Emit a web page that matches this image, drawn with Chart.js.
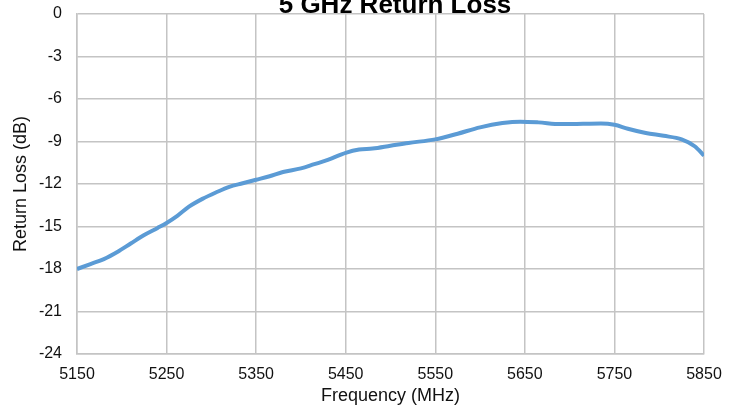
<!DOCTYPE html>
<html>
<head>
<meta charset="utf-8">
<title>5 GHz Return Loss</title>
<script src="https://cdn.jsdelivr.net/npm/chart.js@4"></script>
<style>
  html, body { margin: 0; padding: 0; background: #fff; }
  #wrap { width: 736px; height: 407px; overflow: hidden; }
</style>
</head>
<body>
<div id="wrap"><canvas id="rl-chart" width="736" height="407"></canvas></div>
<script>
// values
const frequencies = [
  5150, 5165, 5180, 5195, 5210, 5225, 5240, 5250, 5262, 5275,
  5290, 5305, 5320, 5335, 5350, 5365, 5380, 5400, 5415, 5430,
  5450, 5465, 5480, 5500, 5520, 5550, 5575, 5600, 5625, 5645,
  5665, 5690, 5715, 5735, 5750, 5765, 5785, 5805, 5825, 5840, 5850,
];
const returnLoss = [
  -18.0, -17.65, -17.3, -16.8, -16.2, -15.6, -15.1, -14.75, -14.25, -13.6,
  -13.05, -12.6, -12.2, -11.95, -11.7, -11.45, -11.15, -10.9, -10.6, -10.3,
  -9.8, -9.57, -9.5, -9.3, -9.1, -8.85, -8.45, -8.0, -7.7, -7.6,
  -7.65, -7.77, -7.75, -7.73, -7.82, -8.1, -8.4, -8.6, -8.85, -9.35, -10.0,
];
const xTicks = [5150, 5250, 5350, 5450, 5550, 5650, 5750, 5850];
const yTicks = [0, -3, -6, -9, -12, -15, -18, -21, -24];

const chartTitle = "5 GHz Return Loss";
const FONT = "'Liberation Sans', Arial, sans-serif";
const gridColor = "#c4c4c4";

// title sits half outside the top of the picture, so draw it by hand
const cutTitle = {
  id: "cutTitle",
  afterDraw(chart) {
    const ctx = chart.ctx;
    ctx.save();
    ctx.font = "bold 26px " + FONT;
    ctx.fillStyle = "#000";
    ctx.textAlign = "center";
    ctx.textBaseline = "alphabetic";
    ctx.fillText(chartTitle, 395, 13);
    ctx.restore();
  },
};

// keep the plot box fixed, no extra room for half labels
const noEdgePadding = (scale) => {
  scale.paddingTop = 0;
  scale.paddingBottom = 0;
  scale.paddingLeft = 0;
  scale.paddingRight = 0;
};

new Chart(document.querySelector("#rl-chart"), {
  type: "line",
  data: {
    datasets: [{
      label: "Return Loss",
      data: frequencies.map((f, i) => ({ x: f, y: returnLoss[i] })),
      borderColor: "#5b9bd5",
      borderWidth: 4,
      pointRadius: 0,
      cubicInterpolationMode: "monotone",
      fill: false,
    }],
  },
  options: {
    responsive: false,
    animation: false,
    devicePixelRatio: 1,
    layout: { padding: { left: 0, right: 32, top: 14, bottom: 0 } },
    plugins: {
      legend: { display: false },
      tooltip: { enabled: false },
      title: { display: false },
    },
    scales: {
      x: {
        type: "linear",
        min: 5150,
        max: 5850,
        afterBuildTicks: (scale) => { scale.ticks = xTicks.map((v) => ({ value: v })); },
        afterFit: (scale) => { scale.height = 53; noEdgePadding(scale); },
        grid: { color: gridColor, lineWidth: 1.5, drawTicks: false },
        border: { color: gridColor, width: 1.5 },
        ticks: {
          color: "#111",
          font: { family: FONT, size: 16 },
          padding: 11,
          maxRotation: 0,
          callback: (v) => String(v),
        },
        title: {
          display: true,
          text: "Frequency (MHz)",
          color: "#111",
          font: { family: FONT, size: 18 },
          padding: { top: 0, bottom: 0 },
        },
      },
      y: {
        min: -24,
        max: 0,
        afterBuildTicks: (scale) => { scale.ticks = yTicks.map((v) => ({ value: v })); },
        afterFit: (scale) => { scale.width = 77; noEdgePadding(scale); },
        grid: { color: gridColor, lineWidth: 1.5, drawTicks: false },
        border: { color: gridColor, width: 1.5 },
        ticks: {
          color: "#111",
          font: { family: FONT, size: 16 },
          padding: 15,
          callback: (v) => String(v),
        },
        title: {
          display: true,
          text: "Return Loss (dB)",
          color: "#111",
          font: { family: FONT, size: 18 },
          padding: { top: 10, bottom: 0 },
        },
      },
    },
  },
  plugins: [cutTitle],
});
</script>
</body>
</html>
